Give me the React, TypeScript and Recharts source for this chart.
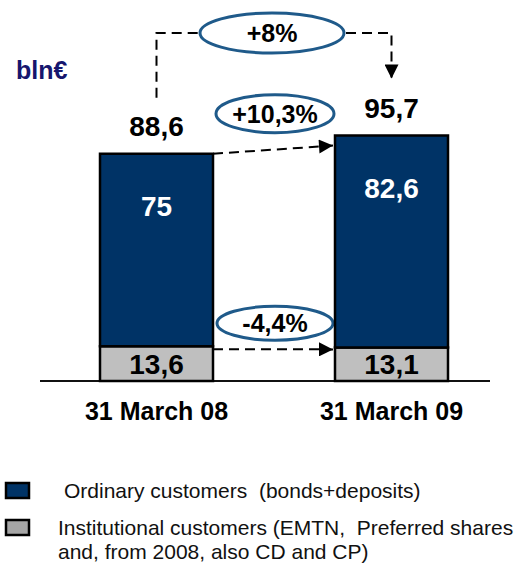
import { BarChart, Bar, XAxis, YAxis, LabelList, Customized } from "recharts"

const dates = ["31 March 08", "31 March 09"]
const ordinary = [75, 82.6]
const institutional = [13.6, 13.1]
const totals = [88.6, 95.7]
const changes = ["+8%", "+10,3%", "-4,4%"]
const legendLines = [
  "Ordinary customers  (bonds+deposits)",
  "Institutional customers (EMTN,  Preferred shares",
  "and, from 2008, also CD and CP)",
]

const data = dates.map((d, i) => ({
  date: d,
  ordinary: ordinary[i],
  institutional: institutional[i],
  total: totals[i],
}))

const W = 525
const H = 566
const M = { top: 22, right: 16, bottom: 145, left: 39 }
const X_AXIS_H = 40
const Y_MAX = 140
const BAR = 113
const plotBottom = H - M.bottom - X_AXIS_H
const plotH = plotBottom - M.top
const band = (W - M.left - M.right) / dates.length

const BLUE = "#003366"
const GREY = "#BFBFBF"
const RING = "#1f5a8a"
const FONT = "'Liberation Sans', Arial, sans-serif"

// same mapping the chart uses, for the arrows / ellipses only
const yPx = (v: number) => plotBottom - (v / Y_MAX) * plotH
const xMid = (i: number) => M.left + band * (i + 0.5)

const fmt = (v: number) => String(v).replace(".", ",")

function Bubble({ cx, cy, rx, ry, text }: any) {
  return (
    <g>
      <ellipse cx={cx} cy={cy} rx={rx} ry={ry} fill="#fff" stroke={RING} strokeWidth={3} />
      <text x={cx} y={cy + 9} textAnchor="middle" fontSize={25} fontWeight="bold" fontFamily={FONT} fill="#000">
        {text}
      </text>
    </g>
  )
}

function Annotations() {
  const mid = (xMid(0) + xMid(1)) / 2
  const x0r = xMid(0) + BAR / 2
  const x1l = xMid(1) - BAR / 2
  const topY = 33
  const t0 = yPx(totals[0])
  const t1 = yPx(totals[1])
  const i0 = yPx(institutional[0])
  const i1 = yPx(institutional[1])
  const midA = (t0 + t1 + 10) / 2
  const midB = (i0 + i1 + 5) / 2
  const dash = { stroke: "#000", strokeWidth: 2, strokeDasharray: "10 6", fill: "none" }

  return (
    <g>
      <defs>
        <marker id="arr" viewBox="0 0 10 10" refX={10} refY={5} markerWidth={15} markerHeight={14}
          markerUnits="userSpaceOnUse" orient="auto">
          <path d="M0,0 L10,5 L0,10 z" fill="#000" />
        </marker>
      </defs>

      <line x1={40} x2={490} y1={plotBottom} y2={plotBottom} stroke="#111" strokeWidth={2} />

      <text x={16} y={79} fontSize={25} fontWeight="bold" fontFamily={FONT} fill="#16166e">bln€</text>

      <path d={`M${xMid(0)},${t0 - 56} V${topY} H${mid - 72}`} {...dash} />
      <path d={`M${mid + 72},${topY} H${xMid(1)} V${t1 - 57}`} {...dash} markerEnd="url(#arr)" />
      <path d={`M${x0r},${t0} L${x1l - 2},${t1 + 10}`} {...dash} markerEnd="url(#arr)" />
      <path d={`M${x0r},${i0 + 3} L${x1l - 2},${i1 + 2}`} {...dash} markerEnd="url(#arr)" />

      <Bubble cx={mid - 2} cy={topY} rx={72} ry={20} text={changes[0]} />
      <Bubble cx={mid + 1} cy={midA - 36} rx={59} ry={19} text={changes[1]} />
      <Bubble cx={mid + 1} cy={midB - 26} rx={58} ry={17} text={changes[2]} />

      <rect x={6} y={483} width={23} height={15} fill={BLUE} stroke="#000" strokeWidth={2.5} />
      <rect x={6} y={520} width={23} height={15} fill="#A6A6A6" stroke="#000" strokeWidth={2.5} />
      <g fontSize={21} fontFamily={FONT} fill="#111">
        <text x={64} y={498} xmlSpace="preserve">{legendLines[0]}</text>
        <text x={58} y={535} xmlSpace="preserve">{legendLines[1]}</text>
        <text x={58} y={559} xmlSpace="preserve">{legendLines[2]}</text>
      </g>
    </g>
  )
}

const DateTick = (props: any) => (
  <text x={props.x} y={plotBottom + 39} textAnchor="middle" fontSize={25} fontWeight="bold"
    fontFamily={FONT} fill="#000">
    {props.payload.value}
  </text>
)

const TotalLabel = (props: any) => {
  const { x, y, width, value } = props
  return (
    <text x={x + width / 2} y={y - 18} textAnchor="middle" fontSize={28} fontWeight="bold"
      fontFamily={FONT} fill="#000">
      {fmt(value)}
    </text>
  )
}

const InnerLabel = (props: any) => {
  const { x, y, width, value } = props
  return (
    <text x={x + width / 2} y={y + 62} textAnchor="middle" fontSize={28} fontWeight="bold"
      fontFamily={FONT} fill="#fff">
      {fmt(value)}
    </text>
  )
}

const GreyLabel = (props: any) => {
  const { x, y, width, height, value } = props
  return (
    <text x={x + width / 2} y={y + height / 2 + 10} textAnchor="middle" fontSize={28} fontWeight="bold"
      fontFamily={FONT} fill="#000">
      {fmt(value)}
    </text>
  )
}

export default function App() {
  return (
    <div style={{ position: "absolute", left: 0, top: 0, width: W, height: H, background: "#fff" }}>
      <BarChart width={W} height={H} data={data} margin={M}>
        <XAxis dataKey="date" height={X_AXIS_H} axisLine={false} tickLine={false} tick={DateTick} interval={0} />
        <YAxis hide domain={[0, Y_MAX]} />
        <Bar dataKey="institutional" stackId="a" fill={GREY} stroke="#000" strokeWidth={2.5}
          barSize={BAR} isAnimationActive={false}>
          <LabelList dataKey="institutional" content={GreyLabel} />
        </Bar>
        <Bar dataKey="ordinary" stackId="a" fill={BLUE} stroke="#000" strokeWidth={2.5}
          barSize={BAR} isAnimationActive={false}>
          <LabelList dataKey="ordinary" content={InnerLabel} />
          <LabelList dataKey="total" content={TotalLabel} />
        </Bar>
        <Customized component={Annotations} />
      </BarChart>
    </div>
  )
}
